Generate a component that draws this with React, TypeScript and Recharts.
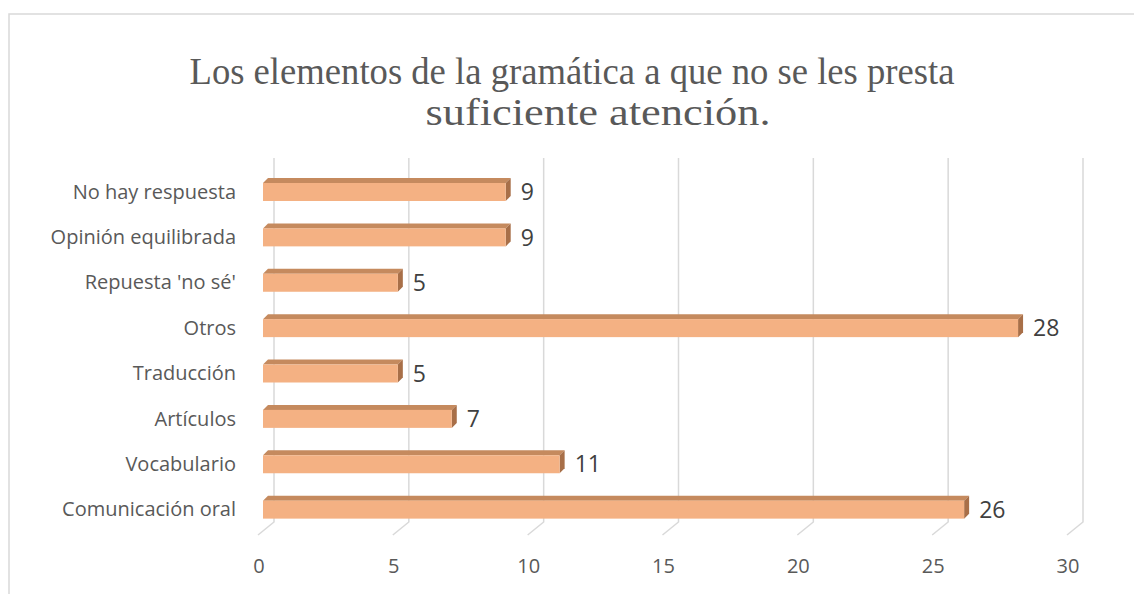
import React from "react";
import { BarChart, Bar, XAxis, YAxis, CartesianGrid, LabelList } from "recharts";

const categories = [
  "No hay respuesta",
  "Opinión equilibrada",
  "Repuesta 'no sé'",
  "Otros",
  "Traducción",
  "Artículos",
  "Vocabulario",
  "Comunicación oral",
];
const values = [9, 9, 5, 28, 5, 7, 11, 26];
const xTicks = [0, 5, 10, 15, 20, 25, 30];
const titleLines = ["Los elementos de la gramática a que no se les presta", "suficiente atención."];

const data = categories.map((c, i) => ({ name: c, value: values[i] }));

const FONT = "'Open Sans', sans-serif";
const SERIF = "'Liberation Serif', 'Times New Roman', serif";
const D = 5;

const Bar3D = (props: any) => {
  const { x, y, width, height } = props;
  if (width == null || width <= 0) return null;
  return (
    <g>
      <polygon
        points={`${x},${y} ${x + D},${y - D} ${x + width + D},${y - D} ${x + width},${y}`}
        fill="#C58A5E"
      />
      <polygon
        points={`${x + width},${y} ${x + width + D},${y - D} ${x + width + D},${y + height - D} ${x + width},${y + height}`}
        fill="#A86F48"
      />
      <rect x={x} y={y} width={width} height={height} fill="#F4B183" />
    </g>
  );
};

const gridLine = (props: any) => {
  const { x1, y1, y2, key } = props;
  const bx = x1 + 11;
  return (
    <path
      key={key}
      d={`M${bx},${y1 - 11} L${bx},${y2 - 10} L${x1 - 5},${y2 + 3}`}
      stroke="#D9D9D9"
      strokeWidth={1.5}
      fill="none"
    />
  );
};

const XTick = (props: any) => {
  const { x, y, payload } = props;
  return (
    <text x={x - 4} y={y} dy={33} textAnchor="middle" fill="#595959" fontSize={20} fontFamily={FONT}>
      {payload.value}
    </text>
  );
};

const YTick = (props: any) => {
  const { x, y, payload } = props;
  return (
    <text x={x} y={y} dy={7} textAnchor="end" fill="#595959" fontSize={20} fontFamily={FONT}>
      {payload.value}
    </text>
  );
};

export default function App() {
  return (
    <div style={{ position: "absolute", left: 0, top: 0, width: 1134, height: 594, background: "#fff" }}>
      <svg width={1134} height={594} style={{ position: "absolute", left: 0, top: 0 }}>
        <rect x={9} y={14} width={1140} height={600} fill="none" stroke="#D9D9D9" strokeWidth={1.5} />
        <text x={572} y={84} textAnchor="middle" fontSize={37} fill="#595959" fontFamily={SERIF} textLength={765} lengthAdjust="spacingAndGlyphs">
          {titleLines[0]}
        </text>
        <text x={598} y={125} textAnchor="middle" fontSize={37} fill="#595959" fontFamily={SERIF} textLength={345} lengthAdjust="spacingAndGlyphs">
          {titleLines[1]}
        </text>
      </svg>
      <div style={{ position: "absolute", left: 0, top: 0 }}>
        <BarChart
          width={1134}
          height={594}
          data={data}
          layout="vertical"
          margin={{ top: 169, right: 62, bottom: 22, left: 0 }}
          barCategoryGap={0}
        >
          <CartesianGrid horizontal={false} vertical={gridLine} />
          <XAxis
            type="number"
            domain={[0, 30]}
            ticks={xTicks}
            axisLine={false}
            tickLine={false}
            height={40}
            tick={<XTick />}
            interval={0}
          />
          <YAxis
            type="category"
            dataKey="name"
            width={263}
            axisLine={false}
            tickLine={false}
            tickSize={0}
            tickMargin={27}
            tick={<YTick />}
            interval={0}
          />
          <Bar dataKey="value" barSize={18} shape={<Bar3D />} isAnimationActive={false}>
            <LabelList dataKey="value" position="right" offset={15} fill="#404040" fontSize={23} fontFamily={FONT} />
          </Bar>
        </BarChart>
      </div>
    </div>
  );
}
